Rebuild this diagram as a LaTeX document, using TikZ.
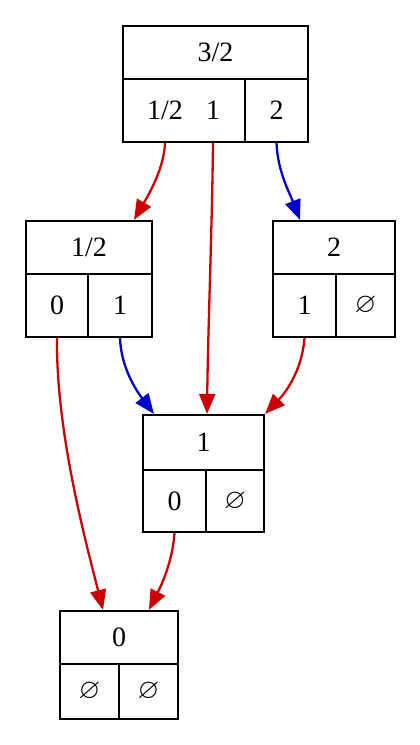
\documentclass[tikz,border=0pt]{standalone}
\usepackage{amssymb}
\usepackage{fontspec}
\setmainfont{Liberation Serif}
\usetikzlibrary{arrows.meta}
\definecolor{ered}{RGB}{204,0,0}
\definecolor{eblue}{RGB}{0,0,204}
\tikzset{
  cell/.style={draw, line width=2.2pt, inner sep=0pt, font=\fontsize{28}{33}\selectfont},
  lbl/.style={inner sep=0pt, font=\fontsize{28}{33}\selectfont},
  edge/.style={line width=2.3pt, -{Triangle[length=20pt,width=16pt]}},
  redge/.style={edge, ered},
  bedge/.style={edge, eblue},
}
\newcommand{\nil}{$\varnothing$}
\begin{document}
\begin{tikzpicture}[x=1pt,y=-1pt]
\useasboundingbox (0,0) rectangle (420,745);
% top record 3/2
\node[cell, minimum width=185, minimum height=53] (tH) at (215.5,52.5) {3/2};
\node[cell, minimum width=122, minimum height=63] (tL) at (184,110.5) {};
\node[cell, minimum width=63, minimum height=63] (tR) at (276.5,110.5) {2};
\node[lbl] (tA) at (165,110.5) {1/2};
\node[lbl] (tB) at (213,110.5) {1};
% record 1/2
\node[cell, minimum width=126, minimum height=53] (pH) at (89,247.5) {1/2};
\node[cell, minimum width=62, minimum height=63] (pL) at (57,305.5) {0};
\node[cell, minimum width=64, minimum height=63] (pR) at (120,305.5) {1};
% record 2
\node[cell, minimum width=122, minimum height=53] (wH) at (334,247.5) {2};
\node[cell, minimum width=63, minimum height=63] (wL) at (304.5,305.5) {1};
\node[cell, minimum width=59, minimum height=63] (wR) at (365.5,305.5) {\nil};
% record 1
\node[cell, minimum width=121, minimum height=55] (oH) at (203.5,442.5) {1};
\node[cell, minimum width=63, minimum height=62] (oL) at (174.5,501) {0};
\node[cell, minimum width=58, minimum height=62] (oR) at (235,501) {\nil};
% record 0
\node[cell, minimum width=118, minimum height=53] (zH) at (119,637.5) {0};
\node[cell, minimum width=59, minimum height=55] (zL) at (89.5,691.5) {\nil};
\node[cell, minimum width=59, minimum height=55] (zR) at (148.5,691.5) {\nil};
% edges
\draw[redge] (tA |- tL.south) .. controls +(-1,23) and +(18,-31) .. ([xshift=45]pH.north);
\draw[redge] (tB |- tL.south) .. controls +(-1,88) and +(1,-85) .. ([xshift=3.5]oH.north);
\draw[bedge] (tR.south) .. controls +(1,28) and +(-10,-26) .. ([xshift=-34]wH.north);
\draw[redge] (pL.south) .. controls +(-1,93) and +(-18,-71) .. ([xshift=-16]zH.north);
\draw[bedge] (pR.south) .. controls +(1,28) and +(-19,-25) .. ([xshift=-49.5]oH.north);
\draw[redge] (wL.south) .. controls +(-2,28) and +(24,-25) .. (oH.north east);
\draw[redge] (oL.south) .. controls +(-2,28) and +(13,-26) .. ([xshift=30]zH.north);
\end{tikzpicture}
\end{document}
